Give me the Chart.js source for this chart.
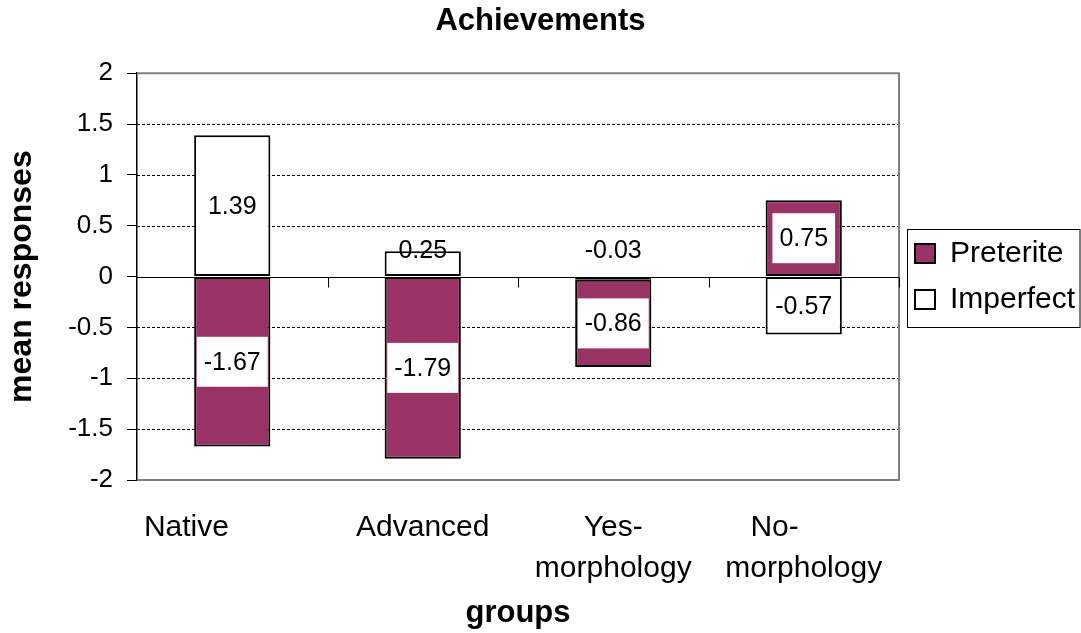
<!DOCTYPE html>
<html>
<head>
<meta charset="utf-8">
<script src="https://cdn.jsdelivr.net/npm/chart.js@4"></script>
<style>
  html, body { margin: 0; padding: 0; background: #fff; }
</style>
</head>
<body>
<canvas id="chart" width="1081" height="633"></canvas>
<script>
const groups = ['Native', 'Advanced', ['Yes-', 'morphology'], ['No-', 'morphology']];
const preterite = [-1.67, -1.79, -0.86, 0.75];
const imperfect = [1.39, 0.25, -0.03, -0.57];
const yTicks = [-2, -1.5, -1, -0.5, 0, 0.5, 1, 1.5, 2];

const FONT = '"Liberation Sans", Arial, sans-serif';
const PURPLE = '#993366';

// dashed grid, grey frame, zero line with the little category ticks
const plotFrame = {
  id: 'plotFrame',
  beforeDatasetsDraw(chart) {
    const {ctx, chartArea: a, scales: {x, y}} = chart;
    ctx.save();
    ctx.lineWidth = 1;
    ctx.strokeStyle = '#000';
    ctx.setLineDash([3, 2]);
    y.ticks.forEach(t => {
      if (t.value === 0 || t.value === y.min || t.value === y.max) return;
      const py = Math.round(y.getPixelForValue(t.value)) + 0.5;
      ctx.beginPath();
      ctx.moveTo(a.left, py);
      ctx.lineTo(a.right, py);
      ctx.stroke();
    });
    ctx.setLineDash([]);

    ctx.strokeStyle = '#808080';
    ctx.lineWidth = 2;
    ctx.beginPath();
    ctx.moveTo(a.left, a.top);
    ctx.lineTo(a.right, a.top);
    ctx.lineTo(a.right, a.bottom);
    ctx.lineTo(a.left, a.bottom);
    ctx.stroke();

    const y0 = Math.round(y.getPixelForValue(0)) + 0.5;
    const half = (x.getPixelForValue(1) - x.getPixelForValue(0)) / 2;
    ctx.strokeStyle = '#000';
    ctx.lineWidth = 1;
    ctx.beginPath();
    ctx.moveTo(a.left, y0);
    ctx.lineTo(a.right, y0);
    for (let i = 0; i < groups.length; i++) {
      const bx = Math.round(x.getPixelForValue(i) + half) + 0.5;
      ctx.moveTo(bx, y0);
      ctx.lineTo(bx, y0 + 10);
    }
    ctx.stroke();
    ctx.restore();
  }
};

// value labels in the middle of each bar, white box behind them
const valueLabels = {
  id: 'valueLabels',
  afterDatasetsDraw(chart) {
    const {ctx, scales: {y}} = chart;
    const y0 = y.getPixelForValue(0);
    ctx.save();
    ctx.font = '25px ' + FONT;
    ctx.textAlign = 'center';
    ctx.textBaseline = 'middle';
    chart.data.datasets.forEach((ds, di) => {
      chart.getDatasetMeta(di).data.forEach((bar, i) => {
        const text = ds.data[i].toFixed(2);
        const small = Math.abs(bar.base - bar.y) < 40;
        const cy = small ? y0 - 26 : (bar.y + bar.base) / 2;
        if (!small) {
          const w = ctx.measureText(text).width + 14;
          ctx.fillStyle = '#fff';
          ctx.fillRect(bar.x - w / 2, cy - 25, w, 50);
        }
        ctx.fillStyle = '#000';
        ctx.fillText(text, bar.x, cy + 1);
      });
    });
    ctx.restore();
  }
};

// frame round the legend
const legendFrame = {
  id: 'legendFrame',
  afterDraw(chart) {
    const {ctx, legend, chartArea} = chart;
    const hb = legend.legendHitBoxes;
    if (!hb || !hb.length) return;
    const last = hb[hb.length - 1];
    const left = Math.round(chartArea.right + 8) + 0.5;
    const top = Math.round(hb[0].top - 10) + 0.5;
    const bottom = Math.round(last.top + last.height + 12) + 0.5;
    ctx.save();
    ctx.strokeStyle = '#000';
    ctx.lineWidth = 1;
    ctx.strokeRect(left, top, chart.width - 1 - left, bottom - top);
    ctx.restore();
  }
};

new Chart(document.getElementById('chart'), {
  type: 'bar',
  data: {
    labels: groups,
    datasets: [
      {
        label: 'Imperfect',
        data: imperfect,
        backgroundColor: '#fff',
        borderColor: '#000',
        borderWidth: 2,
        borderSkipped: false,
        barPercentage: 0.4,
        categoryPercentage: 1
      },
      {
        label: 'Preterite',
        data: preterite,
        backgroundColor: PURPLE,
        borderColor: '#000',
        borderWidth: 2,
        borderSkipped: false,
        barPercentage: 0.4,
        categoryPercentage: 1
      }
    ]
  },
  options: {
    responsive: false,
    animation: false,
    layout: { padding: { right: 0 } },
    plugins: {
      title: {
        display: true,
        text: 'Achievements',
        color: '#000',
        font: { family: FONT, size: 31, weight: 'bold' },
        padding: { top: 3, bottom: 33 }
      },
      legend: {
        position: 'right',
        fullSize: false,
        reverse: true,
        maxWidth: 182,
        labels: {
          color: '#000',
          font: { family: FONT, size: 30 },
          boxWidth: 20,
          boxHeight: 19,
          padding: 16
        }
      },
      tooltip: { enabled: false }
    },
    scales: {
      x: {
        stacked: true,
        grid: { display: false, drawTicks: false },
        border: { display: false },
        ticks: {
          color: '#000',
          font: { family: FONT, size: 30, lineHeight: 1.367 },
          padding: 27,
          maxRotation: 0,
          autoSkip: false,
          callback(value, index) {
            const lab = groups[index];
            // the source chart sets these labels off-centre
            if (index === 0) return lab + '\u00a0'.repeat(11);
            if (index === 3) return [lab[0] + '\u00a0'.repeat(7), lab[1]];
            return lab;
          }
        },
        title: {
          display: true,
          text: 'groups',
          color: '#000',
          font: { family: FONT, size: 31, weight: 'bold' },
          padding: { top: 0, bottom: 1 }
        },
        afterFit(scale) { scale.height = 153; }
      },
      y: {
        stacked: true,
        min: -2,
        max: 2,
        afterBuildTicks(scale) { scale.ticks = yTicks.map(v => ({ value: v })); },
        grid: {
          drawOnChartArea: false,
          drawTicks: true,
          tickLength: 10,
          tickColor: '#000',
          tickWidth: 1
        },
        border: { display: true, color: '#000', width: 1.5 },
        ticks: {
          color: '#000',
          font: { family: FONT, size: 26 },
          padding: 14,
          callback: v => String(v)
        },
        title: {
          display: true,
          text: 'mean responses',
          color: '#000',
          font: { family: FONT, size: 32, weight: 'bold' },
          padding: { top: 3, bottom: 0 }
        },
        afterFit(scale) { scale.width = 137; }
      }
    }
  },
  plugins: [plotFrame, valueLabels, legendFrame]
});
</script>
</body>
</html>
